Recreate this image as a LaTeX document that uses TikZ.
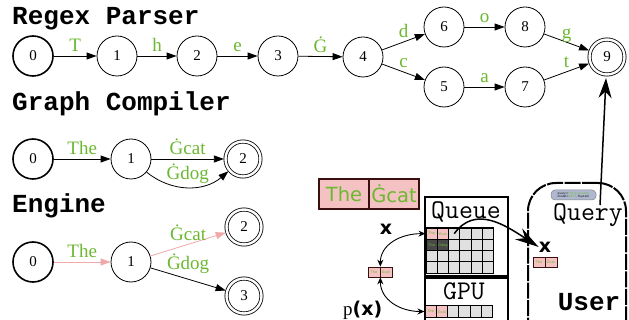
\documentclass[tikz,border=0pt]{standalone}
\usepackage{fontspec}
\setmainfont{Liberation Serif}
\newfontfamily\monofont{Liberation Mono}
\newfontfamily\sansfont{DejaVu Sans}
\usetikzlibrary{arrows.meta}
\definecolor{lblgreen}{RGB}{108,184,48}
\definecolor{pinkfill}{RGB}{244,194,194}
\definecolor{pinkline}{RGB}{240,168,168}
\definecolor{boxdark}{RGB}{60,15,15}
\definecolor{cellgray}{RGB}{224,224,224}
\definecolor{darkcell}{RGB}{72,72,72}
\definecolor{pillblue}{RGB}{176,184,208}

\begin{document}
\begin{tikzpicture}[x=1pt, y=-1pt,
    state/.style={circle, draw, line width=0.8pt, minimum size=40pt, inner sep=0pt, font=\fontsize{15}{15}\selectfont},
    start/.style={state, line width=1.6pt},
    accept/.style={state, double, double distance=2.4pt, minimum size=35pt, outer sep=1.6pt},
    edge/.style={-{Triangle[length=10pt,width=7pt]}, line width=0.8pt},
    lbl/.style={anchor=base, yshift=4pt, inner sep=0pt, text=lblgreen, font=\fontsize{19}{19}\selectfont},
    title/.style={anchor=base west, inner sep=0pt, font=\monofont\bfseries\fontsize{26}{26}\selectfont}]
    \useasboundingbox (0,0) rectangle (629,320);
    \clip (0,0) rectangle (629,320);
    \tikzset{cell/.style={draw, line width=1.1pt, fill=cellgray, minimum size=11.3pt, inner sep=0pt, text=lblgreen, font=\sansfont\fontsize{3.5}{3.5}\selectfont},
        tok/.style={draw=boxdark, fill=pinkfill, line width=0.7pt, minimum width=12pt, minimum height=10pt, inner sep=0pt, text=lblgreen, font=\sansfont\fontsize{3.5}{3.5}\selectfont},
        bigtok/.style={draw=boxdark, fill=pinkfill, line width=1.5pt, minimum width=50pt, minimum height=30pt, inner sep=0pt, text=lblgreen, font=\sansfont\fontsize{19.5}{19.5}\selectfont},
        twoway/.style={{Stealth[length=7pt,width=6pt]}-{Stealth[length=7pt,width=6pt]}, line width=0.9pt},
        bigtext/.style={anchor=base, inner sep=0pt, font=\ttfamily\fontsize{27}{27}\selectfont}};

    % regex parser
    \node[title] (tregex) at (12,25) {Regex Parser};
    \node[start] (r0) at (33,56) {0};
    \foreach \n/\x/\y in {1/117/56, 2/197/56, 3/278/56, 4/363/57, 6/444/27, 8/525/27, 5/444/87, 7/525/87}
        \node[state] (r\n) at (\x,\y) {\n};
    \node[accept] (r9) at (607,57) {9};
    \foreach \a/\b/\t in {0/1/T, 1/2/h, 2/3/e, 3/4/Ġ, 4/6/d, 4/5/c, 6/8/o, 5/7/a, 8/9/g, 7/9/t}
        \draw[edge] (r\a) -- node[lbl] {\t} (r\b);

    % graph compiler
    \node[title] (tgraph) at (12,111) {Graph Compiler};
    \node[start] (g0) at (33,159) {0};
    \node[state] (g1) at (131,159) {1};
    \node[accept] (g2) at (243,159) {2};
    \draw[edge] (g0) -- node[lbl] {The} (g1);
    \draw[edge] (g1) -- node[lbl] {Ġcat} (g2);
    \draw[edge] (g1) to[bend right=40] node[lbl, yshift=4pt] {Ġdog} (g2);

    % engine
    \node[title] (tengine) at (12,213) {Engine};
    \node[start] (e0) at (33,262) {0};
    \node[state] (e1) at (131,262) {1};
    \node[accept] (e2) at (244,227) {2};
    \node[accept] (e3) at (244,296) {3};
    \draw[edge, pinkline] (e0) -- node[lbl] {The} (e1);
    \draw[edge, pinkline] (e1) -- node[lbl] {Ġcat} (e2);
    \draw[edge] (e1) -- node[lbl, yshift=6pt] {Ġdog} (e3);

    % request tokens
    \node[bigtok] (b1) at (344,194) {The};
    \node[bigtok] (b2) at (394,194) {Ġcat};
    \node[font=\sansfont\bfseries\fontsize{19}{19}\selectfont, inner sep=0pt] (xq) at (386,229) {x};
    \node[tok] (p1) at (374,272) {The};
    \node[tok] (p2) at (386,272) {Ġcat};
    \node[anchor=base west, inner sep=0pt, font=\fontsize{19}{19}\selectfont] (px) at (343,316) {p{\sansfont\bfseries(x)}};

    % queue
    \node[draw, line width=2pt, minimum width=83pt, minimum height=79pt, inner sep=0pt] (queue) at (466.5,236.5) {};
    \node[bigtext] (tqueue) at (466,219) {Queue};
    \foreach \c/\f/\t in {1/pinkfill/The, 2/pinkfill/Ġcat, 3/cellgray/{}, 4/cellgray/{}, 5/cellgray/{}, 6/cellgray/{}}
        \node[cell, fill=\f] (q-1-\c) at ({426+11.3*(\c-0.5)},233.65) {\t};
    \foreach \c/\f/\t in {1/darkcell/The, 2/darkcell/Ġdog, 3/cellgray/{}, 4/cellgray/{}, 5/cellgray/{}, 6/cellgray/{}}
        \node[cell, fill=\f] (q-2-\c) at ({426+11.3*(\c-0.5)},244.95) {\t};
    \foreach \r in {3,4}
        \foreach \c in {1,...,6}
            \node[cell] (q-\r-\c) at ({426+11.3*(\c-0.5)},{228+11.3*(\r-0.5)}) {};

    % gpu
    \node[draw, line width=2pt, minimum width=83pt, minimum height=43pt, inner sep=0pt] (gpu) at (466.5,299.5) {};
    \node[bigtext] (tgpu) at (464,299) {GPU};
    \foreach \c/\f/\t in {1/pinkfill/The, 2/pinkfill/Ġcat, 3/cellgray/{}, 4/cellgray/{}, 5/cellgray/{}, 6/cellgray/{}}
        \node[cell, fill=\f] (gpu-\c) at ({425+11.3*(\c-0.5)},311.5) {\t};

    \draw[twoway] (p1.north east) .. controls +(0,-22) and +(-25,0) .. (q-1-1.west);
    \draw[twoway] (p1.south east) .. controls +(0,22) and +(-25,0) .. (gpu-1.west);

    % user
    \node[draw, line width=2pt, rounded corners=28pt, dash pattern=on 16pt off 1.5pt, minimum width=98pt, minimum height=170pt] (user) at (577,268) {};
    \node[rounded corners=4pt, draw=gray, fill=pillblue, line width=0.5pt, inner sep=0.6pt, minimum width=45pt, minimum height=10pt, align=left, font=\sansfont\fontsize{2.8}{3.2}\selectfont] (pill) at (573.5,195) {query={\color{lblgreen}The Ġcat Ġdog}\\model={\color{lblgreen}GPT2}, Tsystem};
    \node[bigtext] (tquery) at (588,221) {Query};
    \node[font=\sansfont\bfseries\fontsize{19}{19}\selectfont, inner sep=0pt] (xu) at (545,247) {x};
    \node[tok] (u1) at (539,262) {The};
    \node[tok] (u2) at (551,262) {Ġcat};
    \node[anchor=base, inner sep=0pt, font=\monofont\bfseries\fontsize{26}{26}\selectfont] (tuser) at (589,310) {User};

    \draw[line width=1.5pt, -{Stealth[length=24pt,width=13pt]}] (q-1-3.center) .. controls (475,205) and (505,225) .. (xu.west);
    \coordinate (qout) at (600,205);
    \draw[line width=1.5pt, -{Stealth[length=20pt,width=13pt]}, shorten >=2pt] (qout) -- (r9);
\end{tikzpicture}
\end{document}
